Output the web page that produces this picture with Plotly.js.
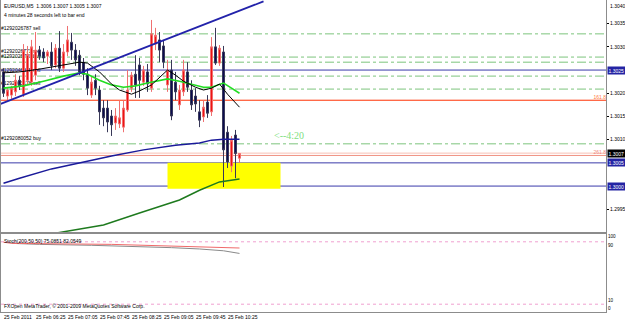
<!DOCTYPE html>
<html><head><meta charset="utf-8">
<script src="https://cdn.plot.ly/plotly-3.0.1.min.js"></script>
<style>html,body{margin:0;padding:0;background:#fff;}#chart{width:625px;height:321px;}</style>
</head><body><div id="chart"></div>
<script>
// ---------- data ----------
const symbolTitle = "EURUSD,M5  1.3006 1.3007 1.3005 1.3007";
const timerText = "4 minutes 28 seconds left to bar end";
const stochTitle = "Stoch(200,50,50) 75.0851 82.0549";
const copyrightText = "FXOpen MetaTrader, \u00a9 2001-2009 MetaQuotes Software Corp.";
const countdownText = "<--4:20";

const barIndex = [0,1,2,3,4,5,6,7,8,9,10,11,12,13,14,15,16,17,18,19,20,21,22,23,24,25,26,27,28,29,
  30,31,32,33,34,35,36,37,38,39,40,41,42,43,44,45,46,47,48,49,50,51,52,53,54,55,56,57,58,59];

const opens = [1.30246,1.30194,1.30196,1.30203,1.30228,1.30198,1.30228,1.30224,1.30239,1.30293,
  1.30289,1.30280,1.30289,1.30261,1.30297,1.30254,1.30289,1.30310,1.30293,1.30282,
  1.30267,1.30241,1.30196,1.30228,1.30207,1.30168,1.30168,1.30151,1.30136,1.30134,
  1.30127,1.30164,1.30211,1.30241,1.30261,1.30224,1.30246,1.30211,1.30306,1.30315,
  1.30302,1.30218,1.30250,1.30224,1.30175,1.30203,1.30246,1.30207,1.30194,1.30160,
  1.30149,1.30181,1.30160,1.30300,1.30265,1.30289,1.30116,1.30043,1.30110,1.30060];
const highs = [1.30254,1.30211,1.30216,1.30241,1.30237,1.30306,1.30302,1.30315,1.30332,1.30302,
  1.30297,1.30293,1.30310,1.30306,1.30334,1.30306,1.30345,1.30330,1.30306,1.30293,
  1.30276,1.30254,1.30237,1.30241,1.30216,1.30185,1.30185,1.30164,1.30168,1.30185,
  1.30185,1.30250,1.30246,1.30282,1.30276,1.30259,1.30263,1.30358,1.30341,1.30332,
  1.30315,1.30272,1.30272,1.30246,1.30218,1.30272,1.30267,1.30228,1.30211,1.30185,
  1.30185,1.30196,1.30321,1.30341,1.30304,1.30302,1.30129,1.30108,1.30121,1.30070];
const lows = [1.30192,1.30185,1.30188,1.30194,1.30207,1.30192,1.30220,1.30216,1.30228,1.30272,
  1.30267,1.30263,1.30250,1.30254,1.30246,1.30246,1.30280,1.30272,1.30259,1.30239,
  1.30228,1.30196,1.30190,1.30196,1.30132,1.30129,1.30116,1.30108,1.30121,1.30125,
  1.30116,1.30160,1.30203,1.30190,1.30190,1.30216,1.30203,1.30203,1.30293,1.30267,
  1.30254,1.30203,1.30142,1.30185,1.30164,1.30194,1.30203,1.30164,1.30160,1.30127,
  1.30138,1.30147,1.30151,1.30261,1.30259,1.29998,1.30039,1.30030,1.30017,1.30050];
const closes = [1.30200,1.30207,1.30211,1.30228,1.30216,1.30293,1.30284,1.30300,1.30293,1.30280,
  1.30276,1.30289,1.30259,1.30297,1.30254,1.30289,1.30315,1.30293,1.30272,1.30246,
  1.30241,1.30211,1.30224,1.30211,1.30160,1.30147,1.30138,1.30132,1.30151,1.30147,
  1.30168,1.30207,1.30239,1.30218,1.30228,1.30250,1.30220,1.30328,1.30325,1.30293,
  1.30267,1.30250,1.30151,1.30203,1.30207,1.30250,1.30213,1.30175,1.30177,1.30142,
  1.30170,1.30157,1.30300,1.30265,1.30297,1.30078,1.30052,1.30099,1.30070,1.30070];

// moving averages (bar index, price)
const maBlackX = [0,4,9,14,19,21,24,27,29,32,34,37,39,41,43,45,48,50,52,54,56,59];
const maBlackY = [1.30244,1.30246,1.30252,1.30259,1.30267,1.30265,1.30246,1.30220,1.30207,1.30198,1.30205,
  1.30218,1.30233,1.30250,1.30239,1.30226,1.30213,1.30207,1.30211,1.30220,1.30198,1.30170];
const maLimeX = [0,5,10,15,19,21,24,27,30,33,36,39,41,44,47,50,52,54,55,57,59];
const maLimeY = [1.30211,1.30216,1.30226,1.30237,1.30244,1.30241,1.30228,1.30218,1.30213,1.30216,1.30222,
  1.30228,1.30231,1.30226,1.30220,1.30213,1.30213,1.30220,1.30222,1.30211,1.30200];
const maBlueX = [0,4,12,20,27,35,43,49,52,55,59];
const maBlueY = [1.30006,1.30017,1.30037,1.30052,1.30065,1.30078,1.30088,1.30093,1.30099,1.30101,1.30101];
const maGreenX = [12,25,34,44,49,54,59];
const maGreenY = [1.29897,1.29916,1.29942,1.29970,1.29991,1.30009,1.30015];

// trend line end points (bar index, price)
const trendX = [-1, 65];
const trendY = [1.30176, 1.30398];

// stochastic
const stochSignalX = [0,2,27,34,42,49,59];
const stochSignalY = [89.5,88.0,86.7,85.9,84.6,83.3,82.0549];
const stochMainX = [2,9,22,34,42,49,55,59];
const stochMainY = [88.0,86.7,85.5,84.0,82.5,80.8,78.5,75.0851];
const stochLevels = [90, 10];

// horizontal levels
const orderLevels = [1.30328,1.30278,1.30267,1.30237,1.30209,1.30091];
const orderLabels = ["#1292026787 sell","#1292026771 sell","#1292026790 buy","#1292046345 sell","#1292063178 sell","#1292080052 buy"];
const blueLevels = [1.3025, 1.3005, 1.3000];
const blueLevelLabels = ["1.3025","1.3005","1.3000"];
const fiboLevels = [1.30185, 1.30066];
const fiboLabels = ["161.8","261.8"];
const bidPrice = 1.30071;
const bidLabel = "1.3007";
const zoneX = [41, 69.25];
const zoneY = [1.29994, 1.30050];

const priceTicks = [1.2995,1.3010,1.3015,1.3020,1.3030,1.3035];
const priceTickText = ["1.2995","1.3010","1.3015","1.3020","1.3030","1.3035"];
const topPriceLabel = "1.3040";
const stochLabelVals = [100,90,10,0];
const stochLabelText = ["100","90","10","0"];
const stochLabelAnchor = ["top","top","bottom","bottom"];

const timeTickBars = [0,8,16,24,32,40,48,56];
const timeTickText = ["25 Feb 2011","25 Feb 06:25","25 Feb 07:05","25 Feb 07:45","25 Feb 08:25","25 Feb 09:05","25 Feb 09:45","25 Feb 10:25"];

// ---------- chart ----------
const FONT = "Liberation Sans, Arial, sans-serif";
const SMALL = 5;

const traces = [
  {type:'candlestick', x:barIndex, open:opens, high:highs, low:lows, close:closes,
   xaxis:'x', yaxis:'y', whiskerwidth:0, hoverinfo:'skip',
   increasing:{line:{color:'#f07070', width:1}, fillcolor:'#ee1010'},
   decreasing:{line:{color:'#383858', width:1}, fillcolor:'#0c0c52'}},
  {type:'scatter', mode:'lines', x:maGreenX, y:maGreenY, line:{color:'#1e7a1e', width:1.5}, xaxis:'x', yaxis:'y'},
  {type:'scatter', mode:'lines', x:maBlueX, y:maBlueY, line:{color:'#1a1a9a', width:1.5}, xaxis:'x', yaxis:'y'},
  {type:'scatter', mode:'lines', x:maLimeX, y:maLimeY, line:{color:'#22dd22', width:1.6}, xaxis:'x', yaxis:'y'},
  {type:'scatter', mode:'lines', x:maBlackX, y:maBlackY, line:{color:'#000000', width:1}, xaxis:'x', yaxis:'y'},
  {type:'scatter', mode:'lines', x:trendX, y:trendY, line:{color:'#2222aa', width:1.8}, xaxis:'x', yaxis:'y'},
  {type:'scatter', mode:'lines', x:stochMainX, y:stochMainY, line:{color:'#8a8a8a', width:1}, xaxis:'x2', yaxis:'y2'},
  {type:'scatter', mode:'lines', x:stochSignalX, y:stochSignalY, line:{color:'#f06a6a', width:1}, xaxis:'x2', yaxis:'y2'}
];

const shapes = [];
shapes.push({type:'rect', layer:'below', xref:'x', yref:'y', x0:zoneX[0], x1:zoneX[1], y0:zoneY[0], y1:zoneY[1],
  fillcolor:'#ffff00', line:{width:0}});
orderLevels.forEach((lv,i)=>{
  shapes.push({type:'line', layer:'below', xref:'paper', yref:'y', x0:0, x1:1, y0:lv, y1:lv,
    line:{color:'#7cc47c', width:1, dash:'dashdot'},
    label:{text:orderLabels[i], textposition:'start', yanchor:'bottom', padding:3, font:{family:FONT, size:SMALL, color:'#000'}}});
});
blueLevels.forEach(lv=>{
  shapes.push({type:'line', layer:'below', xref:'paper', yref:'y', x0:0, x1:1, y0:lv, y1:lv, line:{color:'#3a3aaa', width:1}});
});
shapes.push({type:'line', layer:'below', xref:'paper', yref:'y', x0:0, x1:1, y0:bidPrice, y1:bidPrice, line:{color:'#f8c0b4', width:1}});
fiboLevels.forEach((lv,i)=>{
  shapes.push({type:'line', layer:'below', xref:'paper', yref:'y', x0:0, x1:1, y0:lv, y1:lv,
    line:{color: i===0 ? '#ff3000' : '#f09080', width:1},
    label:{text:fiboLabels[i], textposition:'end', yanchor:'bottom', padding:0, font:{family:FONT, size:SMALL, color: i===0 ? '#ff7a40' : '#f08a80'}}});
});
stochLevels.forEach(lv=>{
  shapes.push({type:'line', layer:'below', xref:'paper', yref:'y2', x0:0, x1:1, y0:lv, y1:lv, line:{color:'#f0a0d0', width:1, dash:'dot'}});
});

const annotations = [];
annotations.push({xref:'paper', yref:'paper', x:0, y:1, xanchor:'left', yanchor:'top', xshift:1, yshift:-1,
  text:symbolTitle, showarrow:false, font:{family:FONT, size:SMALL, color:'#000'}});
annotations.push({xref:'paper', yref:'paper', x:0, y:1, xanchor:'left', yanchor:'top', xshift:1, yshift:-10,
  text:timerText, showarrow:false, font:{family:FONT, size:SMALL, color:'#000'}});
annotations.push({xref:'x', yref:'y', x:67, y:1.30110, xanchor:'left', yanchor:'middle',
  text:countdownText, showarrow:false, font:{family:'Liberation Serif, serif', size:10, color:'#7ee07e'}});
annotations.push({xref:'paper', yref:'y2', x:0, y:100, xanchor:'left', yanchor:'top', xshift:1, yshift:-2,
  text:stochTitle, showarrow:false, font:{family:FONT, size:SMALL, color:'#000'}});
annotations.push({xref:'paper', yref:'y2', x:0, y:8, xanchor:'left', yanchor:'middle', xshift:1,
  text:copyrightText, showarrow:false, font:{family:FONT, size:SMALL, color:'#000'}});
annotations.push({xref:'paper', yref:'paper', x:1, y:1, xanchor:'left', yanchor:'top', xshift:2, yshift:-1,
  text:topPriceLabel, showarrow:false, font:{family:FONT, size:SMALL, color:'#000'}});
stochLabelVals.forEach((v,i)=>{
  annotations.push({xref:'paper', yref:'y2', x:1, y:v, xanchor:'left', yanchor:stochLabelAnchor[i], xshift:1,
    yshift: i===0 ? 1 : 0, borderpad:0,
    text:stochLabelText[i], showarrow:false, font:{family:FONT, size:4.6, color:'#000'}});
});
blueLevels.forEach((lv,i)=>{
  annotations.push({xref:'paper', yref:'y', x:1, y:lv, xanchor:'left', yanchor:'middle', xshift:1,
    text:blueLevelLabels[i], showarrow:false, bgcolor:'#2424a4', borderpad:0.5,
    font:{family:FONT, size:SMALL, color:'#ffffff'}});
});
annotations.push({xref:'paper', yref:'y', x:1, y:bidPrice, xanchor:'left', yanchor:'middle', xshift:1,
  text:bidLabel, showarrow:false, bgcolor:'#000000', borderpad:0.5, font:{family:FONT, size:SMALL, color:'#ffffff'}});
timeTickBars.forEach((b,i)=>{
  annotations.push({xref:'x', yref:'paper', x:b, y:0, xanchor:'left', yanchor:'top', xshift:-2, yshift:0,
    text:timeTickText[i], showarrow:false, font:{family:FONT, size:SMALL, color:'#000'}});
});

const axisCommon = {showgrid:false, zeroline:false, showline:true, mirror:true, linecolor:'#8c8c8c', linewidth:1};
const layout = {
  width:625, height:321,
  margin:{l:1, r:19, t:0, b:9, pad:0},
  paper_bgcolor:'#ffffff', plot_bgcolor:'#ffffff',
  showlegend:false,
  font:{family:FONT, size:SMALL, color:'#000'},
  xaxis:Object.assign({domain:[0,1], anchor:'y', range:[-0.625,150.625], showticklabels:false, ticks:'',
    rangeslider:{visible:false}}, axisCommon),
  xaxis2:Object.assign({domain:[0,1], anchor:'y2', matches:'x', range:[-0.625,150.625], showticklabels:false, ticks:''}, axisCommon),
  yaxis:Object.assign({domain:[0.2564,1], anchor:'x', side:'right', range:[1.29901,1.30401],
    tickmode:'array', tickvals:priceTicks, ticktext:priceTickText, ticks:'outside', ticklen:2, tickcolor:'#000',
    ticklabelstandoff:0, tickfont:{family:FONT, size:SMALL, color:'#000'}}, axisCommon),
  yaxis2:Object.assign({domain:[0,0.25], anchor:'x2', side:'right', range:[0,100],
    showticklabels:false, ticks:''}, axisCommon),
  shapes:shapes,
  annotations:annotations
};

Plotly.newPlot('chart', traces, layout, {staticPlot:true, displayModeBar:false});
</script>
</body></html>
